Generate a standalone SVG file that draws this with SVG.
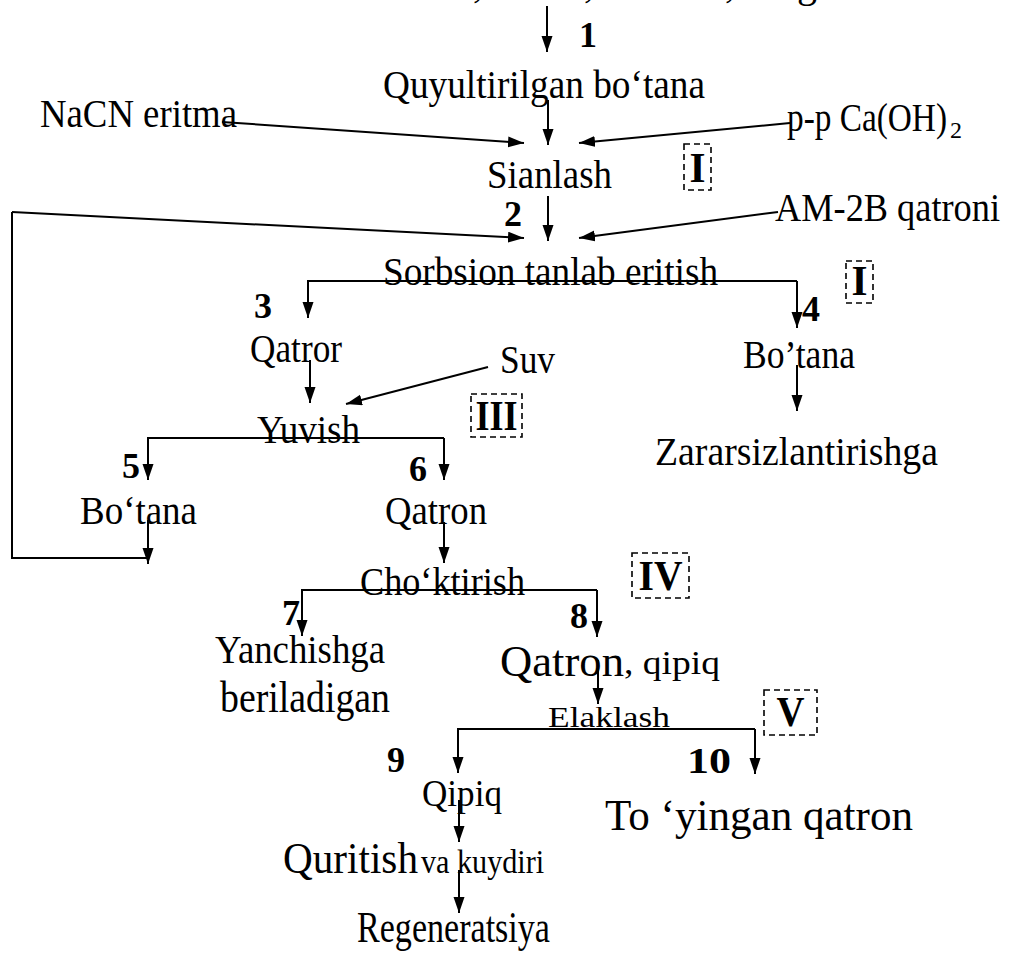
<svg xmlns="http://www.w3.org/2000/svg" width="1010" height="955" viewBox="0 0 1010 955">
  <style>
    text { font-family: "Liberation Serif", "Times New Roman", serif; fill: #000; }
    .lb { font-size: 40px; }
    .big { font-size: 45px; }
    .num { font-size: 36px; font-weight: bold; }
    .rom { font-size: 42px; font-weight: bold; text-anchor: middle; }
    .ln { stroke: #000; stroke-width: 2; fill: none; }
    .ar { stroke: #000; stroke-width: 2; fill: none; marker-end: url(#head); }
    .box { stroke: #000; stroke-width: 1.6; fill: none; stroke-dasharray: 6 4; }
  </style>
  <defs>
    <marker id="head" markerUnits="userSpaceOnUse" markerWidth="16" markerHeight="12" viewBox="0 0 16 12" refX="16" refY="5.5" orient="auto">
      <path d="M0,0 L16,5.5 L0,11 Z" fill="#000"/>
    </marker>
    <clipPath id="cut">
      <rect x="0" y="830" width="545" height="60"/>
    </clipPath>
  </defs>
  <rect width="1010" height="955" fill="#fff"/>

  <!-- header line, only its lower edge falls inside the sheet -->
  <g id="header">
    <text class="lb" x="473" y="-3">,</text>
    <text class="lb" x="584" y="-3">,</text>
    <text class="lb" x="725" y="-3">,</text>
    <text class="lb" x="797" y="-3">g</text>
  </g>

  <g id="connectors">
    <line class="ar" x1="547" y1="6" x2="547" y2="52"/>
    <line class="ar" x1="548" y1="100" x2="548" y2="145"/>
    <line class="ar" x1="222" y1="122" x2="524" y2="143"/>
    <line class="ar" x1="790" y1="123" x2="579" y2="143"/>
    <line class="ar" x1="548" y1="196" x2="548" y2="241"/>
    <polyline class="ln" points="148,558 12,558 12,212"/>
    <line class="ar" x1="12" y1="212" x2="524" y2="238"/>
    <line class="ar" x1="778" y1="212" x2="579" y2="238"/>
    <polyline class="ar" points="797,281 308,281 308,318"/>
    <line class="ar" x1="797" y1="281" x2="797" y2="328"/>
    <line class="ar" x1="310" y1="360" x2="310" y2="403"/>
    <line class="ar" x1="488" y1="367" x2="346" y2="404"/>
    <line class="ar" x1="797" y1="365" x2="797" y2="411"/>
    <polyline class="ar" points="444,438 148,438 148,480"/>
    <line class="ar" x1="444" y1="438" x2="444" y2="480"/>
    <line class="ar" x1="148" y1="520" x2="148" y2="564"/>
    <line class="ar" x1="444" y1="522" x2="444" y2="563"/>
    <polyline class="ar" points="597,590 302,590 302,636"/>
    <line class="ar" x1="597" y1="590" x2="597" y2="637"/>
    <line class="ar" x1="598" y1="660" x2="598" y2="704"/>
    <polyline class="ar" points="755,729 458,729 458,773"/>
    <line class="ar" x1="755" y1="729" x2="755" y2="774"/>
    <line class="ar" x1="459" y1="800" x2="459" y2="842"/>
    <line class="ar" x1="459" y1="870" x2="459" y2="913"/>
  </g>

  <g id="step-numbers">
    <text class="num" x="579" y="47">1</text>
    <text class="num" x="504" y="226">2</text>
    <text class="num" x="254" y="318">3</text>
    <text class="num" x="802" y="321">4</text>
    <text class="num" x="122" y="478">5</text>
    <text class="num" x="409" y="481">6</text>
    <text class="num" x="282" y="625">7</text>
    <text class="num" x="570" y="628">8</text>
    <text class="num" x="387" y="772">9</text>
    <text class="num" x="687" y="773" textLength="44" lengthAdjust="spacingAndGlyphs">10</text>
  </g>

  <g id="stages">
    <rect class="box" x="684" y="144" width="27" height="46"/>
    <text class="rom" x="697.5" y="182" textLength="16" lengthAdjust="spacingAndGlyphs">I</text>
    <rect class="box" x="846" y="261" width="27" height="42"/>
    <text class="rom" x="859.5" y="295" textLength="16" lengthAdjust="spacingAndGlyphs">I</text>
    <rect class="box" x="471" y="394" width="51" height="43"/>
    <text class="rom" x="496.5" y="430" textLength="42" lengthAdjust="spacingAndGlyphs">III</text>
    <rect class="box" x="632" y="553" width="57" height="45"/>
    <text class="rom" x="660.5" y="590" textLength="44" lengthAdjust="spacingAndGlyphs">IV</text>
    <rect class="box" x="764" y="690" width="53" height="45"/>
    <text class="rom" x="790.5" y="726" textLength="28" lengthAdjust="spacingAndGlyphs">V</text>
  </g>

  <g id="n-slurry"><text class="lb" x="383" y="98" textLength="322" lengthAdjust="spacingAndGlyphs">Quyultirilgan bo‘tana</text></g>
  <g id="n-nacn"><text class="lb" x="40" y="127" textLength="197" lengthAdjust="spacingAndGlyphs">NaCN eritma</text></g>
  <g id="n-lime">
    <text class="lb" x="787" y="131" textLength="160" lengthAdjust="spacingAndGlyphs">p-p Ca(OH)</text>
    <text x="950" y="138" font-size="24">2</text>
  </g>
  <g id="n-cyanidation"><text class="lb" x="487" y="188" textLength="125" lengthAdjust="spacingAndGlyphs">Sianlash</text></g>
  <g id="n-resin-in"><text class="lb" x="775" y="221" textLength="225" lengthAdjust="spacingAndGlyphs">AM-2B qatroni</text></g>
  <g id="n-sorption"><text class="lb" x="383" y="285" textLength="335" lengthAdjust="spacingAndGlyphs">Sorbsion tanlab eritish</text></g>
  <g id="n-resin1"><text class="lb" x="250" y="362" textLength="92" lengthAdjust="spacingAndGlyphs">Qatror</text></g>
  <g id="n-water"><text class="lb" x="500" y="373" textLength="55" lengthAdjust="spacingAndGlyphs">Suv</text></g>
  <g id="n-pulp1"><text class="lb" x="743" y="368" textLength="112" lengthAdjust="spacingAndGlyphs">Bo’tana</text></g>
  <g id="n-washing"><text class="lb" x="257" y="443" textLength="103" lengthAdjust="spacingAndGlyphs">Yuvish</text></g>
  <g id="n-detox"><text class="lb" x="655" y="465" textLength="283" lengthAdjust="spacingAndGlyphs">Zararsizlantirishga</text></g>
  <g id="n-pulp2"><text class="lb" x="80" y="524" textLength="117" lengthAdjust="spacingAndGlyphs">Bo‘tana</text></g>
  <g id="n-resin2"><text class="lb" x="385" y="524" textLength="102" lengthAdjust="spacingAndGlyphs">Qatron</text></g>
  <g id="n-settling"><text class="lb" x="360" y="595" textLength="165" lengthAdjust="spacingAndGlyphs">Cho‘ktirish</text></g>
  <g id="n-grinding">
    <text class="lb" x="215" y="663" textLength="170" lengthAdjust="spacingAndGlyphs">Yanchishga</text>
    <text class="big" x="220" y="712" textLength="170" lengthAdjust="spacingAndGlyphs">beriladigan</text>
  </g>
  <g id="n-resin-chips">
    <text class="big" x="500" y="676" textLength="124" lengthAdjust="spacingAndGlyphs">Qatron</text>
    <text x="624" y="674" font-size="34" textLength="96" lengthAdjust="spacingAndGlyphs">, qipiq</text>
  </g>
  <g id="n-screening"><text x="548" y="727" font-size="30" textLength="122" lengthAdjust="spacingAndGlyphs">Elaklash</text></g>
  <g id="n-chips"><text x="422" y="806" font-size="38" textLength="80" lengthAdjust="spacingAndGlyphs">Qipiq</text></g>
  <g id="n-loaded"><text class="big" x="605" y="830" textLength="308" lengthAdjust="spacingAndGlyphs">To ‘yingan qatron</text></g>
  <g id="n-drying" clip-path="url(#cut)">
    <text class="big" x="283" y="873" textLength="135" lengthAdjust="spacingAndGlyphs">Quritish</text>
    <text x="421" y="873" font-size="34" textLength="150" lengthAdjust="spacingAndGlyphs">va kuydirish</text>
  </g>
  <g id="n-regeneration"><text class="big" x="357" y="942" textLength="193" lengthAdjust="spacingAndGlyphs">Regeneratsiya</text></g>
</svg>
